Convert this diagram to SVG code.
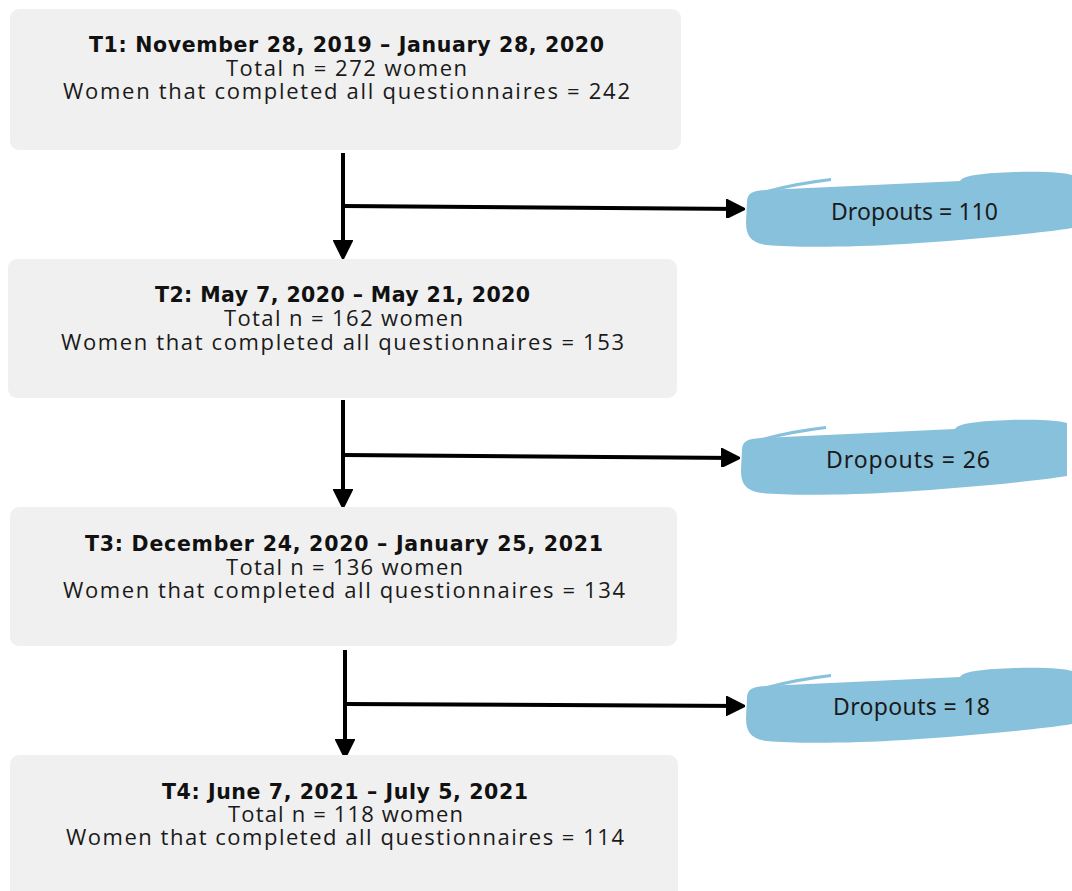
<svg xmlns="http://www.w3.org/2000/svg" width="1072" height="891" viewBox="0 0 1072 891">
  <style>
    .box { fill: #f0f0f0; }
    .blob { fill: #88c1dc; }
    .title { font-family: "DejaVu Sans", "Noto Sans", sans-serif; font-weight: 700; font-size: 20.5px; fill: #111; text-anchor: middle; }
    .body { font-family: "Open Sans", "Noto Sans", sans-serif; font-size: 22px; fill: #1a1a1a; text-anchor: middle; }
    .drop { font-family: "Noto Sans", "Open Sans", sans-serif; font-size: 23px; fill: #1a1a1a; text-anchor: middle; }
    .line { stroke: #000; stroke-width: 4; fill: none; }
  </style>
  <defs>
    <marker id="arrow" viewBox="0 0 10 10" refX="9" refY="5" markerWidth="4.8" markerHeight="4.8" markerUnits="strokeWidth" orient="auto">
      <path d="M0,0 L10,5 L0,10 Z" fill="#000" stroke="#000" stroke-width="1" stroke-linejoin="round"/>
    </marker>
    <!-- brush-stroke shaped label background -->
    <g id="brush">
      <path class="blob" d="M2,30 C2,21 8,19 20,18 L215,9 C218,3 240,1 270,0 C300,-1 322,1 327,3 L327,56 C290,62 220,68 160,72 C110,75 50,76 22,73 C6,71 1,64 1,50 Z"/>
      <path class="blob" d="M22,18 Q50,10 86,6 L86,9 Q55,13 30,19 Z"/>
    </g>
  </defs>

  <g id="connectors">
    <line class="line" x1="343" y1="153" x2="343" y2="257" marker-end="url(#arrow)"/>
    <line class="line" x1="343" y1="206" x2="743" y2="209" marker-end="url(#arrow)"/>
    <line class="line" x1="343" y1="400" x2="343" y2="506" marker-end="url(#arrow)"/>
    <line class="line" x1="343" y1="455" x2="738" y2="458" marker-end="url(#arrow)"/>
    <line class="line" x1="345" y1="650" x2="345" y2="756" marker-end="url(#arrow)"/>
    <line class="line" x1="345" y1="704" x2="743" y2="706" marker-end="url(#arrow)"/>
  </g>

  <g id="t1">
    <rect class="box" x="10" y="9" width="671" height="141" rx="9"/>
    <text class="title" x="346.5" y="52" textLength="515" lengthAdjust="spacing">T1: November 28, 2019 – January 28, 2020</text>
    <text class="body" x="346.5" y="76" textLength="241" lengthAdjust="spacing">Total n = 272 women</text>
    <text class="body" x="346.5" y="99" textLength="567" lengthAdjust="spacing">Women that completed all questionnaires = 242</text>
  </g>

  <g id="t2">
    <rect class="box" x="8" y="259" width="669" height="139" rx="9"/>
    <text class="title" x="342.5" y="302" textLength="375" lengthAdjust="spacing">T2: May 7, 2020 – May 21, 2020</text>
    <text class="body" x="343.5" y="326" textLength="239" lengthAdjust="spacing">Total n = 162 women</text>
    <text class="body" x="342.5" y="350" textLength="563" lengthAdjust="spacing">Women that completed all questionnaires = 153</text>
  </g>

  <g id="t3">
    <rect class="box" x="10" y="507" width="667" height="139" rx="9"/>
    <text class="title" x="344" y="551" textLength="518" lengthAdjust="spacing">T3: December 24, 2020 – January 25, 2021</text>
    <text class="body" x="344.5" y="575" textLength="237" lengthAdjust="spacing">Total n = 136 women</text>
    <text class="body" x="344" y="598" textLength="562" lengthAdjust="spacing">Women that completed all questionnaires = 134</text>
  </g>

  <g id="t4">
    <rect class="box" x="10" y="755" width="668" height="150" rx="9"/>
    <text class="title" x="345" y="799" textLength="366" lengthAdjust="spacing">T4: June 7, 2021 – July 5, 2021</text>
    <text class="body" x="345.5" y="822" textLength="235" lengthAdjust="spacing">Total n = 118 women</text>
    <text class="body" x="345" y="845" textLength="558" lengthAdjust="spacing">Women that completed all questionnaires = 114</text>
  </g>

  <g id="dropout1">
    <use href="#brush" transform="translate(745,172)"/>
    <text class="drop" x="914.5" y="220" textLength="167" lengthAdjust="spacing">Dropouts = 110</text>
  </g>

  <g id="dropout2">
    <use href="#brush" transform="translate(740,420)"/>
    <text class="drop" x="908" y="468" textLength="164" lengthAdjust="spacing">Dropouts = 26</text>
  </g>

  <g id="dropout3">
    <use href="#brush" transform="translate(745,668)"/>
    <text class="drop" x="911.5" y="715" textLength="157" lengthAdjust="spacing">Dropouts = 18</text>
  </g>
</svg>
